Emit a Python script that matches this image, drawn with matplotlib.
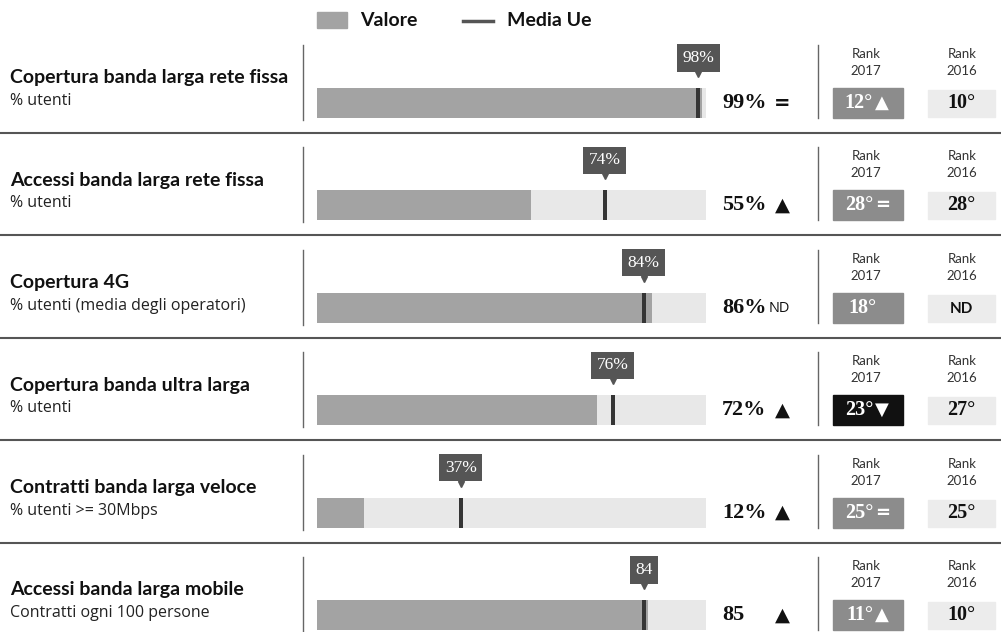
import matplotlib
matplotlib.use("Agg")
import matplotlib.pyplot as plt
from matplotlib.patches import Rectangle

# data
titles = [
    "Copertura banda larga rete fissa",
    "Accessi banda larga rete fissa",
    "Copertura 4G",
    "Copertura banda ultra larga",
    "Contratti banda larga veloce",
    "Accessi banda larga mobile",
]
subtitles = [
    "% utenti",
    "% utenti",
    "% utenti (media degli operatori)",
    "% utenti",
    "% utenti >= 30Mbps",
    "Contratti ogni 100 persone",
]
values = [99, 55, 86, 72, 12, 85]
media_ue = [98, 74, 84, 76, 37, 84]
value_labels = ["99%", "55%", "86%", "72%", "12%", "85"]
media_labels = ["98%", "74%", "84%", "76%", "37%", "84"]
trend = ["=", "▲", "ND", "▲", "▲", "▲"]
rank_2017 = ["12°", "28°", "18°", "23°", "25°", "11°"]
rank_2017_trend = ["▲", "=", "", "▼", "=", "▲"]
rank_2016 = ["10°", "28°", "ND", "27°", "25°", "10°"]

SANS = ["Lato", "DejaVu Sans"]
SANS_LIGHT = ["Open Sans", "DejaVu Sans"]
SERIF = ["Liberation Serif", "DejaVu Serif"]

BAR_C = "#a3a3a3"
TRACK_C = "#e8e8e8"
MARK_C = "#353535"
LABEL_C = "#555555"
RANK17_C = "#8c8c8c"
RANK16_C = "#ececec"

W, H = 1001, 632
row0, row_h = 103, 102.4
n = len(values)

fig = plt.figure(figsize=(W / 100, H / 100), dpi=100)

# pixel-space axes for the layout
bg = fig.add_axes([0, 0, 1, 1])
bg.set_xlim(0, W)
bg.set_ylim(H, 0)
bg.axis("off")

# bar axes: 0..100 mapped onto x 317..706 px, rows as y index
x0, x100 = 317, 706
ax = fig.add_axes([x0 / W, 0, (x100 - x0) / W, 1])
ax.set_xlim(0, 100)
ax.set_ylim((H - row0) / row_h, -row0 / row_h)
ax.axis("off")
ax.patch.set_alpha(0)

rows = list(range(n))
bar_h = 30 / row_h
ax.barh(rows, [101] * n, height=bar_h, color=TRACK_C, zorder=1)
ax.barh(rows, values, height=bar_h, color=BAR_C, zorder=2)
ax.barh(rows, [1.0] * n, left=[m - 0.5 for m in media_ue], height=bar_h,
        color=MARK_C, zorder=3)

for i, m in enumerate(media_ue):
    ax.text(m, i - 45 / row_h, media_labels[i], ha="center", va="center",
            color="white", fontsize=12.5, family=SERIF, zorder=5,
            bbox=dict(boxstyle="square,pad=0.32", fc=LABEL_C, ec="none"))
    ax.plot([m], [i - 29 / row_h], marker="v", color=LABEL_C, markersize=5,
            zorder=4)

# legend
bg.add_patch(Rectangle((317, 12), 30, 16, color=BAR_C))
bg.text(360, 20, "Valore", fontsize=14, fontweight="bold", family=SANS,
        va="center", ha="left", color="#111111")
bg.plot([463, 493], [21, 21], color="#555555", lw=2.5)
bg.text(507, 20, "Media Ue", fontsize=14, fontweight="bold", family=SANS,
        va="center", ha="left", color="#111111")

for i in range(n):
    yc = row0 + i * row_h
    # row titles
    bg.text(10, yc - 25, titles[i], fontsize=14, fontweight="bold",
            family=SANS, va="center", ha="left", color="#111111")
    bg.text(10, yc - 2, subtitles[i], fontsize=11.5, family=SANS_LIGHT,
            va="center", ha="left", color="#222222")

    # vertical separators
    bg.plot([303, 303], [yc - 58, yc + 17], color="#666666", lw=1)
    bg.plot([818, 818], [yc - 58, yc + 15], color="#666666", lw=1)

    # value + trend
    bg.text(722, yc, value_labels[i], fontsize=16, fontweight="bold",
            family=SERIF, va="center", ha="left", color="#111111")
    if trend[i] == "ND":
        bg.text(769, yc + 1, "ND", fontsize=10.5, family=SANS_LIGHT,
                va="center", ha="left", color="#111111")
    else:
        bg.text(782, yc, trend[i], fontsize=14, fontweight="bold",
                family=["DejaVu Sans"], va="center", ha="center",
                color="#111111")

    # rank headers
    for xc, yr in ((866, "2017"), (962, "2016")):
        bg.text(xc, yc - 49, "Rank", fontsize=9.5, family=SANS,
                va="center", ha="center", color="#333333")
        bg.text(xc, yc - 32, yr, fontsize=9.5, family=SANS,
                va="center", ha="center", color="#333333")

    # rank 2017 box
    dark = rank_2017_trend[i] == "▼"
    bg.add_patch(Rectangle((833, yc - 15), 70, 30,
                           color="#111111" if dark else RANK17_C))
    if rank_2017_trend[i]:
        bg.text(873, yc, rank_2017[i], fontsize=14.5, fontweight="bold",
                family=SERIF, va="center", ha="right", color="white")
        bg.text(875, yc, rank_2017_trend[i], fontsize=13, fontweight="bold",
                family=["DejaVu Sans"], va="center", ha="left", color="white")
    else:
        bg.text(862, yc, rank_2017[i], fontsize=14.5, fontweight="bold",
                family=SERIF, va="center", ha="center", color="white")

    # rank 2016 box
    bg.add_patch(Rectangle((928, yc - 13), 67, 27, color=RANK16_C))
    if rank_2016[i] == "ND":
        bg.text(961, yc + 1, "ND", fontsize=11, fontweight="bold",
                family=SANS, va="center", ha="center", color="#111111")
    else:
        bg.text(961, yc, rank_2016[i], fontsize=14.5, fontweight="bold",
                family=SERIF, va="center", ha="center", color="#111111")

    # horizontal separator
    if i < n - 1:
        bg.plot([0, W], [yc + 30, yc + 30], color="#555555", lw=1.5)

fig.savefig("out.png", dpi=100)
